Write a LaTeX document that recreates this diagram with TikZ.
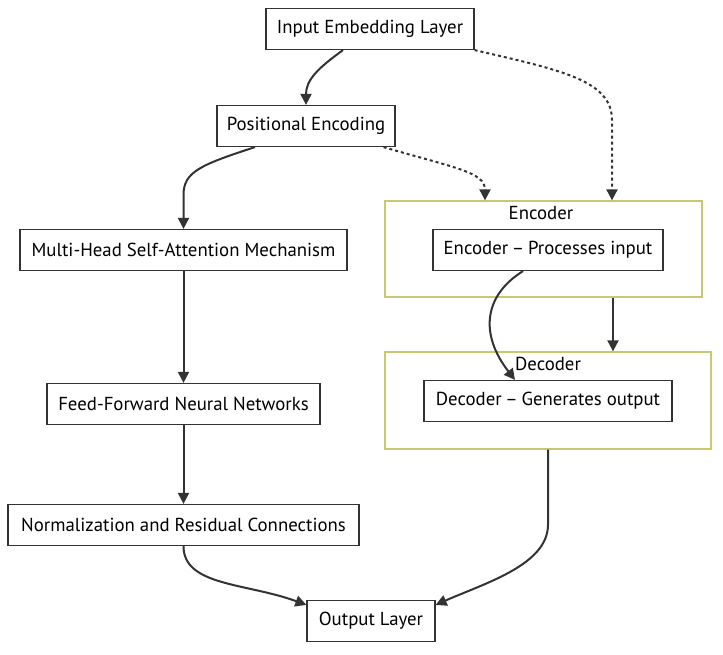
\documentclass[tikz,border=0pt]{standalone}
\usepackage{fontspec}
\setmainfont{PT Sans}
\usetikzlibrary{arrows.meta,calc}
\definecolor{ink}{HTML}{333333}
\definecolor{clusterline}{HTML}{C8C870}
\definecolor{clusterfill}{HTML}{FFFFFF}
\begin{document}
\begin{tikzpicture}[x=1pt,y=-1pt,
  box/.style={draw=ink, line width=1.2pt, fill=white, minimum height=41pt, inner sep=0pt, font=\fontsize{18.8}{22}\selectfont},
  cluster/.style={draw=clusterline, line width=1.3pt, fill=clusterfill, inner sep=0pt},
  clabel/.style={font=\fontsize{18.8}{22}\selectfont, inner sep=0pt},
  arr/.style={draw=ink, line width=2pt, -{Triangle[width=11pt,length=11pt]}},
  dotarr/.style={arr, dash pattern=on 3pt off 3pt}]
\useasboundingbox (0,0) rectangle (723,654);
% clusters
\node[cluster, minimum width=317pt, minimum height=96pt] (enc) at (543.5,249) {};
\node[clabel] (enclabel) at (541,213) {Encoder};
\node[cluster, minimum width=326pt, minimum height=97pt] (dec) at (548,400.5) {};
% nodes
\node[box, minimum width=208pt] (in) at (370,29) {Input Embedding Layer};
\node[box, minimum width=178pt] (pe) at (306,126) {Positional Encoding};
\node[box, minimum width=327pt] (mh) at (183.5,250) {Multi-Head Self-Attention Mechanism};
\node[box, minimum width=273pt] (ff) at (183.5,404) {Feed-Forward Neural Networks};
\node[box, minimum width=351pt] (nr) at (183.5,525) {Normalization and Residual Connections};
\node[box, minimum width=128pt] (out) at (371,621) {Output Layer};
\node[box, minimum width=230pt] (en) at (548,250) {Encoder\hspace{0.2em}–\hspace{0.2em}Processes input};
\node[box, minimum width=248pt] (de) at (548,401) {Decoder\hspace{0.2em}–\hspace{0.2em}Generates output};
% edges
\draw[arr] ([xshift=-27pt]in.south) .. controls +(-25,18) and +(0,-25) .. (pe.north);
\draw[dotarr] (in.south east) .. controls (560,70) and (612,80) .. (612,120) -- ([xshift=68.5pt]enc.north);
\draw[dotarr] ([xshift=-12pt]pe.south east) .. controls (455,168) and (485,172) .. ([xshift=-58.5pt]enc.north);
\draw[arr] ([xshift=-51pt]pe.south) .. controls (200,165) and (183.5,172) .. (183.5,195) -- (mh.north);
\draw[arr] (mh.south) -- (ff.north);
\draw[arr] (ff.south) -- (nr.north);
\draw[arr] (nr.south) .. controls +(0,40) and +(-60,-22) .. ([yshift=-5pt]out.north west);
\draw[arr] (dec.south) -- ++(0,75) .. controls +(0,40) and +(50,-22) .. ([yshift=-5pt]out.north east);
\draw[arr] ([xshift=69.5pt]enc.south) -- ([xshift=65pt]dec.north);
\draw[arr] ([xshift=-25pt]en.south) .. controls +(-40,25) and +(-35,-45) .. ([xshift=-33pt]de.north);
\node[clabel] (declabel) at (548,364) {Decoder};
\end{tikzpicture}
\end{document}
